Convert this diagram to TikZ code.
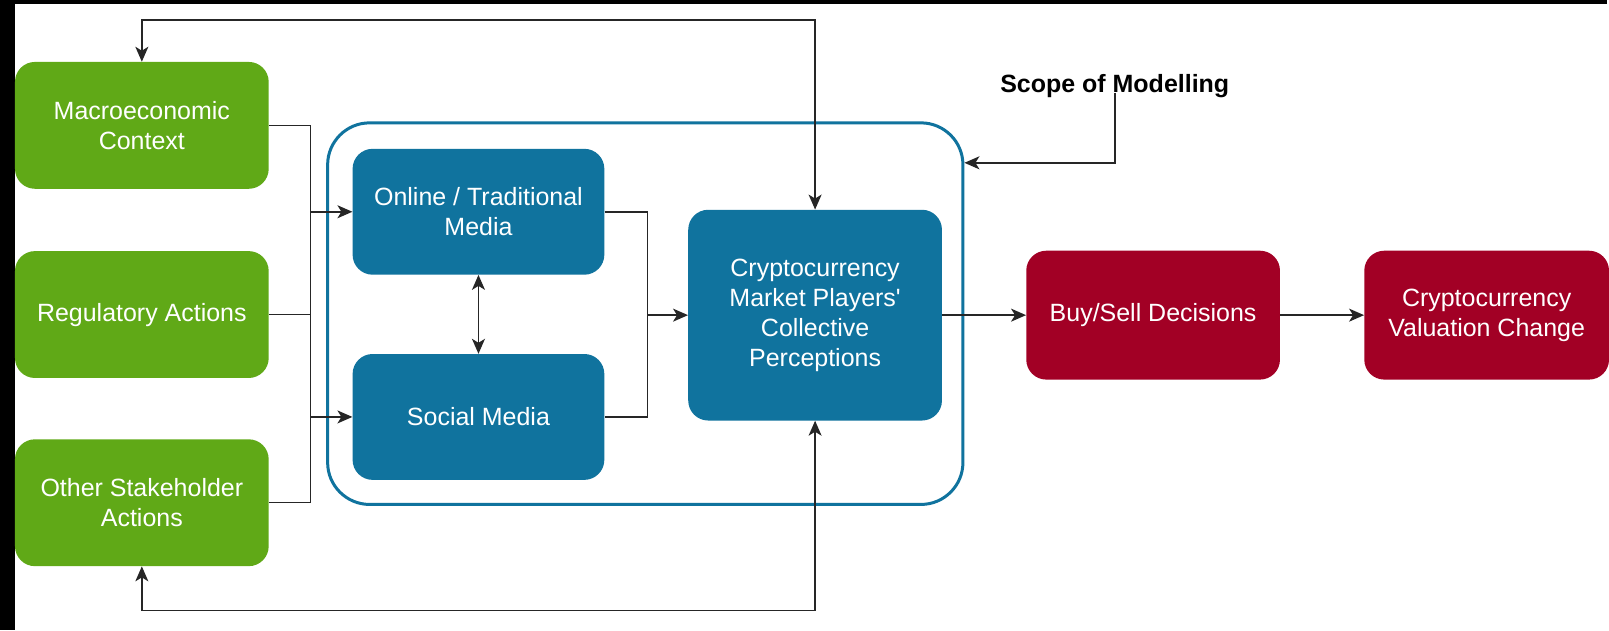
\documentclass[tikz,border=0pt]{standalone}
\usepackage{fontspec}
\setmainfont{Liberation Sans}
\usetikzlibrary{arrows.meta,positioning}

\definecolor{drivergreen}{HTML}{60A917}
\definecolor{mediablue}{HTML}{10739E}
\definecolor{outcomered}{HTML}{A20025}

\begin{document}
\begin{tikzpicture}[
  x=1pt, y=-1pt,
  block/.style={rectangle, rounded corners=20pt, text=white, align=center, minimum width=254pt, minimum height=127pt, inner sep=4pt, font=\fontsize{25}{30}\selectfont},
  driver/.style={block, fill=drivergreen},
  media/.style={block, fill=mediablue, minimum width=252pt, minimum height=126pt},
  outcome/.style={block, fill=outcomered, minimum height=129pt},
  scopebox/.style={rectangle, draw=mediablue, line width=3pt, rounded corners=42pt, minimum width=636pt, minimum height=382pt},
  link/.style={line width=1.5pt, black!85},
  arrow/.style={link, -{Stealth[length=15pt, width=13pt, inset=4pt]}},
  dblarrow/.style={link, {Stealth[length=15pt, width=13pt, inset=4pt]}-{Stealth[length=15pt, width=13pt, inset=4pt]}},
  node distance=62pt
]
  % page frame
  \fill[black] (0,0) rectangle (1609,631);
  \fill[white] (15,4) rectangle (1609,631);

  % scope of modelling
  \node[scopebox] (model) at (646,314) {};
  \node[anchor=base, font=\fontsize{25}{30}\selectfont\bfseries] (scope) at (1116,93) {Scope of Modelling};

  % external drivers
  \node[driver] (macro) at (142,125.5) {Macroeconomic\\Context};
  \node[driver, below=of macro] (reg) {Regulatory Actions};
  \node[driver, below=61pt of reg] (other) {Other Stakeholder\\Actions};

  % media channels
  \node[media] (online) at (479,212) {Online / Traditional\\Media};
  \node[media, below=79pt of online] (social) {Social Media};

  % perceptions and outcomes
  \node[block, fill=mediablue, minimum height=211pt] (crypto) at (816,315.5) {Cryptocurrency\\Market Players\textquotesingle\\Collective\\Perceptions};
  \node[outcome, right=84pt of crypto] (buy) {Buy/Sell Decisions};
  \node[outcome, right=84pt of buy, minimum width=245pt] (value) {Cryptocurrency\\Valuation Change};

  \coordinate (bus) at (311,0);
  \coordinate (merge) at (648,0);
  \coordinate (toprail) at (0,20);
  \coordinate (botrail) at (0,611);
  \coordinate (scoperail) at (0,163);

  \draw[link] (macro.east) -- (macro.east -| bus) -- (other.east -| bus) -- (other.east);
  \draw[link] (reg.east) -- (reg.east -| bus);
  \draw[arrow] (online.west -| bus) -- (online.west);
  \draw[arrow] (social.west -| bus) -- (social.west);
  \draw[dblarrow] (online) -- (social);

  \draw[link] (online.east) -- (online.east -| merge) -- (social.east -| merge) -- (social.east);
  \draw[arrow] (crypto.west -| merge) -- (crypto.west);

  \draw[arrow] (crypto) -- (buy);
  \draw[arrow] (buy) -- (value);

  % feedback loops
  \draw[dblarrow] (macro.north) -- (macro.north |- toprail) -| (crypto.north);
  \draw[dblarrow] (other.south) -- (other.south |- botrail) -| (crypto.south);

  \draw[arrow] (scope.base) |- (model.east |- scoperail);
\end{tikzpicture}
\end{document}
